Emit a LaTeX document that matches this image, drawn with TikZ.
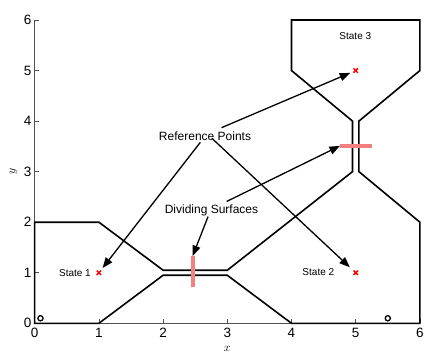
\documentclass[tikz,border=0pt]{standalone}
\usepackage{fontspec}
\setmainfont{Liberation Sans}
\usetikzlibrary{arrows.meta}
\definecolor{dsurf}{RGB}{242,128,128}
\definecolor{axisgray}{RGB}{80,80,80}
\begin{document}
\begin{tikzpicture}[x=64.2pt,y=50.55pt,
  wall/.style={draw=black,line width=1.6pt,line join=miter},
  axisline/.style={draw=axisgray,line width=0.6pt},
  ticklbl/.style={font=\fontsize{13.5}{13.5}\selectfont,inner sep=0pt},
  divsurf/.style={draw=dsurf,line width=3.8pt},
  callout/.style={draw=black,line width=1.3pt,-{Triangle[length=10.5pt,width=8pt]}},
  calltext/.style={font=\fontsize{12}{12}\selectfont,inner sep=0pt},
  statetext/.style={font=\fontsize{10}{10}\selectfont,inner sep=0pt},
  refmark/.style={draw=red,line width=1.5pt},
  ring/.style={draw=black,line width=1.3pt}]
\useasboundingbox (-0.5405,-0.726) rectangle (6.2508,6.3957);
% axes
\draw[axisline] (0,6) -- (0,0) -- (6,0);
\foreach \k in {0,...,6}{
  \draw[axisline] (\k,0) -- ++(0,4pt);
  \draw[axisline] (0,\k) -- ++(4pt,0);
  \node[ticklbl,anchor=north] (xt\k) at ([yshift=-4.5pt]\k,0) {\k};
  \node[ticklbl,anchor=east] (yt\k) at ([xshift=-3pt]0,\k) {\k};
}
\node[inner sep=0pt,font=\fontsize{12}{12}\selectfont,anchor=base] (xlab) at (3,-0.555) {$x$};
\node[inner sep=0pt,rotate=90,font=\fontsize{12}{12}\selectfont] (ylab) at (-0.33,3) {$y$};
% boundary
\draw[wall] (0,2) -- (1,2) -- (2,1.05) -- (3,1.05) -- (4.95,3) -- (4.95,4) -- (4,5) -- (4,6)
  -- (6,6) -- (6,5) -- (5.05,4) -- (5.05,3) -- (6,2) -- (6,0) -- (4,0) -- (3,0.95)
  -- (2,0.95) -- (1,0) -- (0,0) -- cycle;
% dividing surfaces
\draw[divsurf] (2.46,0.71) -- (2.46,1.33);
\draw[divsurf] (4.755,3.51) -- (5.25,3.51);
\coordinate (ds1) at (2.46,1.33);
\coordinate (ds2) at (4.755,3.51);
% reference points
\coordinate (p1) at (1,1);
\coordinate (p2) at (5,1);
\coordinate (p3) at (5,5);
\foreach \p in {p1,p2,p3}{
  \draw[refmark] ([shift={(-2.2pt,-2.2pt)}]\p) -- ([shift={(2.2pt,2.2pt)}]\p);
  \draw[refmark] ([shift={(-2.2pt,2.2pt)}]\p) -- ([shift={(2.2pt,-2.2pt)}]\p);
}
% circles
\coordinate (c1) at (0.09,0.1);
\coordinate (c2) at (5.5,0.1);
\draw[ring] (c1) circle (2.6pt);
\draw[ring] (c2) circle (2.6pt);
% state labels
\node[statetext] (st1) at (0.627,1.0) {State 1};
\node[statetext] (st2) at (4.418,1.01) {State 2};
\node[statetext] (st3) at (4.994,5.69) {State 3};
% callout texts
\node[calltext] (rp) at (2.653,3.705) {Reference Points};
\node[calltext] (ds) at (2.754,2.227) {Dividing Surfaces};
% callout arrows
\coordinate (rpa) at (2.58,3.58);
\coordinate (rpb) at (2.76,3.66);
\coordinate (rpc) at (2.91,3.87);
\draw[callout,shorten >=6pt] (rpa) -- (p1);
\draw[callout,shorten >=8pt] (rpb) -- (p2);
\draw[callout,shorten >=6pt] (rpc) -- (p3);
\coordinate (dsa) at (2.70,2.11);
\coordinate (dsb) at (2.99,2.41);
\draw[callout] (dsa) -- (ds1);
\draw[callout] (dsb) -- (ds2);
\end{tikzpicture}
\end{document}
